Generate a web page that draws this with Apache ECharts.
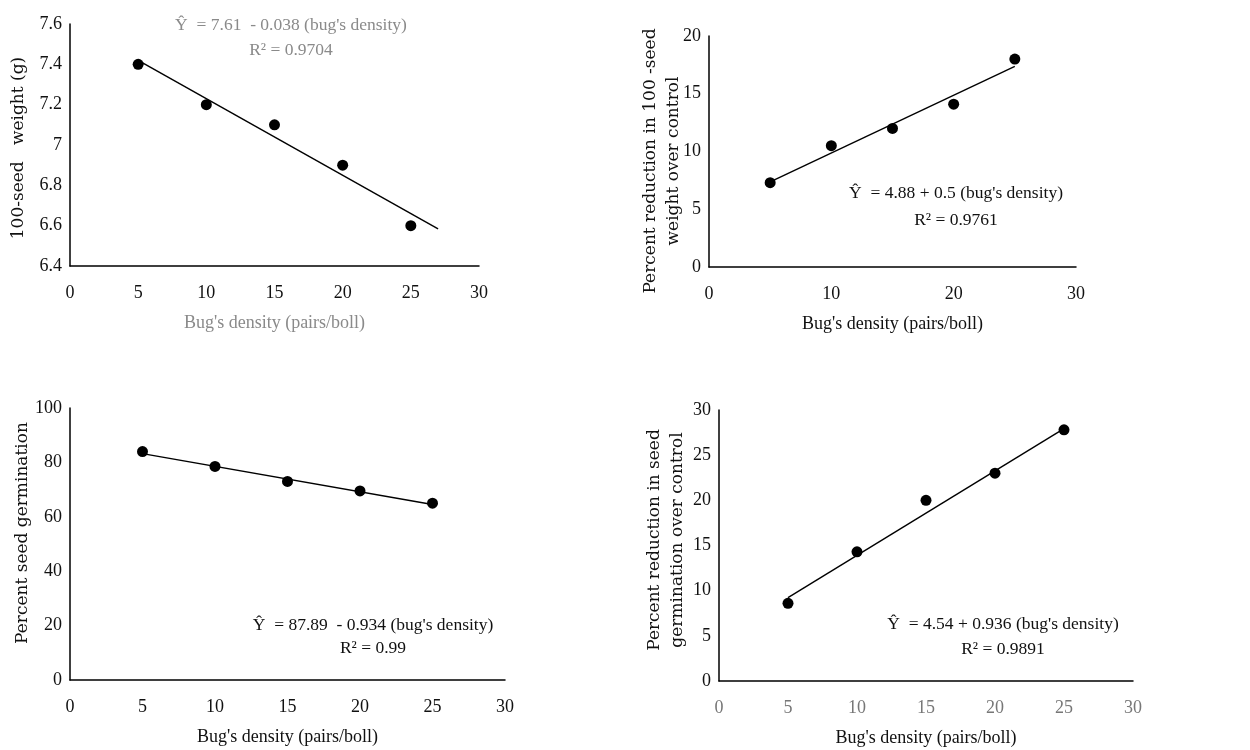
<!DOCTYPE html>
<html>
<head>
<meta charset="utf-8">
<script src="https://cdn.jsdelivr.net/npm/echarts@6/dist/echarts.min.js"></script>
<style>html,body{margin:0;padding:0;background:#fff}#c{width:1250px;height:750px}</style>
</head>
<body>
<div id="c"></div>
<script>
// ---- data ----
const density = [5, 10, 15, 20, 25];
const seedWeight = [7.4, 7.2, 7.1, 6.9, 6.6];
const weightReduction = [7.3, 10.5, 12.0, 14.1, 18.0];
const germination = [84, 78.5, 73, 69.5, 65];
const germReduction = [8.6, 14.3, 20.0, 23.0, 27.8];
const trend1 = [[5, 7.42], [27, 6.584]];
const trend2 = [[5, 7.38], [25, 17.38]];
const trend3 = [[5, 83.22], [25, 64.54]];
const trend4 = [[5, 9.22], [25, 27.94]];
const eq1 = ["Ŷ  = 7.61  - 0.038 (bug's density)", "R² = 0.9704"];
const eq2 = ["Ŷ  = 4.88 + 0.5 (bug's density)", "R² = 0.9761"];
const eq3 = ["Ŷ  = 87.89  - 0.934 (bug's density)", "R² = 0.99"];
const eq4 = ["Ŷ  = 4.54 + 0.936 (bug's density)", "R² = 0.9891"];
const xName = "Bug's density (pairs/boll)";
const yNames = ["100-seed   weight (g)", "Percent reduction in 100 -seed\nweight over control", "Percent seed germination", "Percent reduction in seed\ngermination over control"];

const FONT = "Liberation Serif";
const NAMEFONT = "DejaVu Serif";
const BLACK = "#111";
const GRAY = "#8a8a8a";

const grids = [
  {left: 70, top: 24, width: 409, height: 242},
  {left: 709, top: 36, width: 367, height: 231},
  {left: 70, top: 408, width: 435, height: 272},
  {left: 719, top: 410, width: 414, height: 271}
];

function xAxis(i, interval, labelColor, nameColor) {
  return {
    type: 'value', gridIndex: i, min: 0, max: 30, interval: interval,
    name: xName, nameLocation: 'middle', nameGap: 48, nameMoveOverlap: false,
    nameTextStyle: {fontFamily: FONT, fontSize: 18, color: nameColor},
    axisLine: {show: true, lineStyle: {color: '#000', width: 1.5}},
    axisTick: {show: false}, splitLine: {show: false},
    axisLabel: {fontFamily: FONT, fontSize: 18, color: labelColor, margin: 18}
  };
}
function yAxis(i, min, max, interval, gap, pad) {
  return {
    type: 'value', gridIndex: i, min: min, max: max, interval: interval,
    name: yNames[i], nameLocation: 'middle', nameGap: gap, nameMoveOverlap: false,
    nameTextStyle: {fontFamily: NAMEFONT, fontSize: 17, color: BLACK, lineHeight: 23, padding: pad},
    axisLine: {show: true, lineStyle: {color: '#000', width: 1.5}},
    axisTick: {show: false}, splitLine: {show: false},
    axisLabel: {fontFamily: FONT, fontSize: 18, color: BLACK, margin: 8}
  };
}
function pts(i, ys) {
  return {type: 'scatter', xAxisIndex: i, yAxisIndex: i, symbol: 'circle', symbolSize: 11,
    itemStyle: {color: '#000', opacity: 1}, data: density.map((x, k) => [x, ys[k]]), z: 3};
}
function trend(i, d) {
  return {type: 'line', xAxisIndex: i, yAxisIndex: i, data: d, symbol: 'none',
    lineStyle: {color: '#000', width: 1.4}, z: 2};
}
function eqText(cx, cy, lines, color, lh) {
  return {type: 'text', x: cx, y: cy, style: {text: lines.join('\n'), fill: color,
    font: '17.5px "' + FONT + '"', align: 'center', verticalAlign: 'middle', lineHeight: lh}};
}

const chart = echarts.init(document.getElementById('c'));
chart.setOption({
  animation: false,
  grid: grids,
  xAxis: [xAxis(0, 5, BLACK, GRAY), xAxis(1, 10, BLACK, BLACK), xAxis(2, 5, BLACK, BLACK), xAxis(3, 5, '#777', BLACK)],
  yAxis: [
    yAxis(0, 6.4, 7.6, 0.2, 40, [0, 6, 0, 0]),
    yAxis(1, 0, 20, 5, 24, [0, 19, 0, 0]),
    yAxis(2, 0, 100, 20, 36, [0, 0, 0, 22]),
    yAxis(3, 0, 30, 5, 30, [0, 0, 0, 11])
  ],
  series: [
    pts(0, seedWeight), trend(0, trend1),
    pts(1, weightReduction), trend(1, trend2),
    pts(2, germination), trend(2, trend3),
    pts(3, germReduction), trend(3, trend4)
  ],
  graphic: [
    eqText(291, 38, eq1, GRAY, 25),
    eqText(956, 207, eq2, BLACK, 27),
    eqText(373, 637, eq3, BLACK, 23),
    eqText(1003, 637, eq4, BLACK, 25)
  ]
});
</script>
</body>
</html>
